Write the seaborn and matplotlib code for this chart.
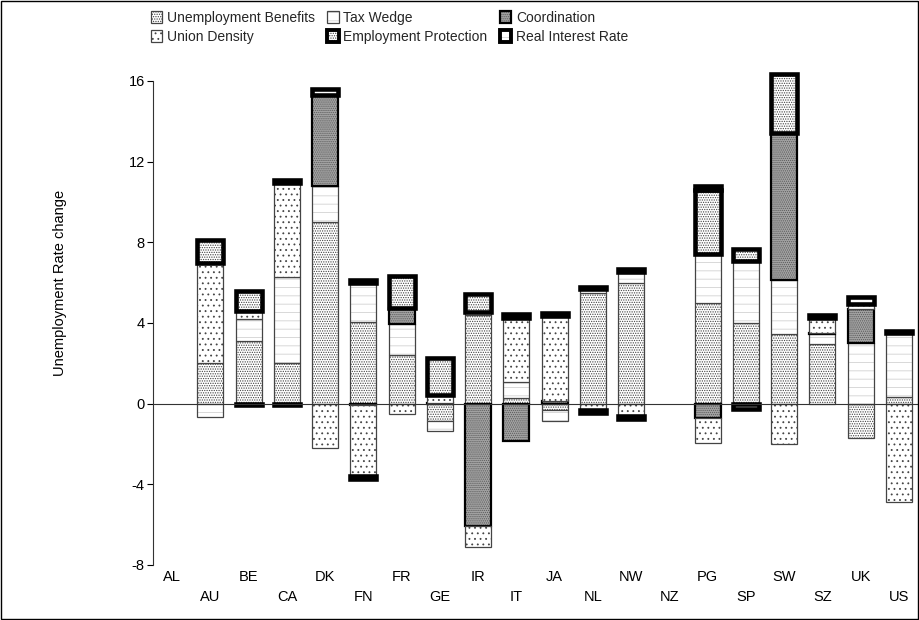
import matplotlib
matplotlib.use("Agg")
import matplotlib.pyplot as plt
from matplotlib.patches import Patch, Rectangle
import seaborn as sns
import pandas as pd
import numpy as np

countries = ["AL", "AU", "BE", "CA", "DK", "FN", "FR", "GE", "IR", "IT",
             "JA", "NL", "NW", "NZ", "PG", "SP", "SW", "SZ", "UK", "US"]

# contribution of each factor to the change in unemployment
unemp_benefits = [0, 2.0, 3.1, 2.0, 9.0, 4.05, 2.4, -0.85, 4.4, 0.3,
                  -0.3, 5.5, 6.0, 0, 5.0, 4.0, 3.45, 2.95, -1.7, 0.35]
tax_wedge = [0, -0.65, 1.1, 4.3, 1.8, 1.95, 1.55, -0.5, 0.15, 0.78,
             -0.55, 0.2, 0.55, 0, 2.4, 3.05, 2.7, 0.5, 3.0, 3.15]
coordination = [0, 0, 0, 0, 4.5, -0.05, 0.8, 0.05, -6.05, -1.85,
                0.15, 0, 0, 0, -0.7, 0, 7.25, 0.05, 1.7, 0]
union_density = [0, 5.0, 0.4, 4.65, -2.2, -3.55, -0.5, 0.4, -1.05, 3.15,
                 4.2, -0.3, -0.6, 0, -1.25, 0, -2.0, 0.75, 0.25, -4.9]
employment_prot = [0, 1.1, 1.0, -0.05, 0, -0.15, 1.6, 1.8, 0.9, 0,
                   0, -0.15, -0.15, 0, 3.2, 0.6, 2.95, 0, 0, 0]
real_interest = [0, 0, -0.05, 0.15, 0.3, 0.15, 0, 0, 0, 0.2,
                 0.15, 0.1, 0.15, 0, 0.2, -0.25, 0, 0.15, 0.35, 0.1]

# stacking order (bottom -> top), with fill / hatch / outline styles
series = [
    ("Unemployment Benefits", unemp_benefits, "white", ".......", "#444444", "#444444", 0.9),
    ("Tax Wedge", tax_wedge, "white", "--", "#d2d2d2", "#444444", 0.9),
    ("Coordination", coordination, "#a4a4a4", "........", "#5a5a5a", "black", 1.6),
    ("Union Density", union_density, "white", "...", "#444444", "#444444", 0.9),
    ("Employment Protection", employment_prot, "white", ".......", "#444444", "black", 3.3),
    ("Real Interest Rate", real_interest, "white", "--", "#d2d2d2", "black", 3.3),
]

sns.set_theme(style="white")
plt.rcParams["font.family"] = ["Liberation Sans", "DejaVu Sans"]
plt.rcParams["hatch.linewidth"] = 0.6

fig = plt.figure(figsize=(9.2, 6.2), dpi=100)
ax = fig.add_axes([153 / 920, 55 / 620, 765 / 920, 484 / 620])

pos = np.zeros(len(countries))
neg = np.zeros(len(countries))
handles = {}
for name, vals, face, hatch, hcol, ecol, lw in series:
    v = np.array(vals, dtype=float)
    bottom = np.where(v >= 0, pos, neg)
    df = pd.DataFrame({"country": countries, "value": v, "bottom": bottom})
    df = df[df["value"] != 0]
    common = dict(x=df["country"], y=df["value"], order=countries, ax=ax,
                  bottom=df["bottom"].to_numpy(), width=0.68, errorbar=None,
                  saturation=1, clip_on=False)
    sns.barplot(**common, color=face, hatch=hatch, edgecolor=hcol, linewidth=0)
    sns.barplot(**common, color=ecol, fill=False, linewidth=lw)
    pos += np.where(v > 0, v, 0)
    neg += np.where(v < 0, v, 0)
    handles[name] = (Patch(facecolor=face, hatch=hatch, edgecolor=hcol, linewidth=0),
                     Patch(facecolor="none", edgecolor=ecol, linewidth=min(lw, 2.8)))

ax.axhline(0, color="#333333", lw=0.8, zorder=10)
ax.set_ylim(-8, 16)
ax.set_xlim(-0.5, len(countries) - 0.5)
ax.set_yticks([-8, -4, 0, 4, 8, 12, 16])
ax.set_yticklabels(["-8", "-4", "0", "4", "8", "12", "16"])
ax.set_xticks(range(len(countries)))
ax.set_xticklabels([c if i % 2 == 0 else "\n" + c for i, c in enumerate(countries)])
for lab in ax.get_xticklabels():
    lab.set_linespacing(1.6)
ax.tick_params(axis="x", length=0, pad=3.5, labelsize=10.5, colors="black")
ax.tick_params(axis="y", direction="out", length=4, width=0.8, pad=2,
               labelsize=10.5, colors="black", left=True)
for s in ["top", "right", "bottom"]:
    ax.spines[s].set_visible(False)
ax.spines["left"].set_bounds(-8, 16)
ax.spines["left"].set_color("#333333")
ax.spines["left"].set_linewidth(0.8)
ax.set_xlabel("")
ax.set_ylabel("Unemployment Rate change", fontsize=10.5, color="black")
ax.yaxis.set_label_coords(-0.113, 0.583)

order = ["Unemployment Benefits", "Union Density", "Tax Wedge",
         "Employment Protection", "Coordination", "Real Interest Rate"]
fig.legend([handles[n] for n in order], order, ncol=3, loc="upper left",
           bbox_to_anchor=(151 / 920, 1 - 11 / 620), frameon=False, fontsize=10,
           handlelength=0.8, handleheight=0.9, handletextpad=0.35,
           columnspacing=0.9, labelspacing=0.35, borderpad=0, borderaxespad=0)

fig.add_artist(Rectangle((0.001, 0.002), 0.997, 0.996, transform=fig.transFigure,
                         fill=False, lw=1, edgecolor="black"))

fig.savefig("out.png", dpi=100)
